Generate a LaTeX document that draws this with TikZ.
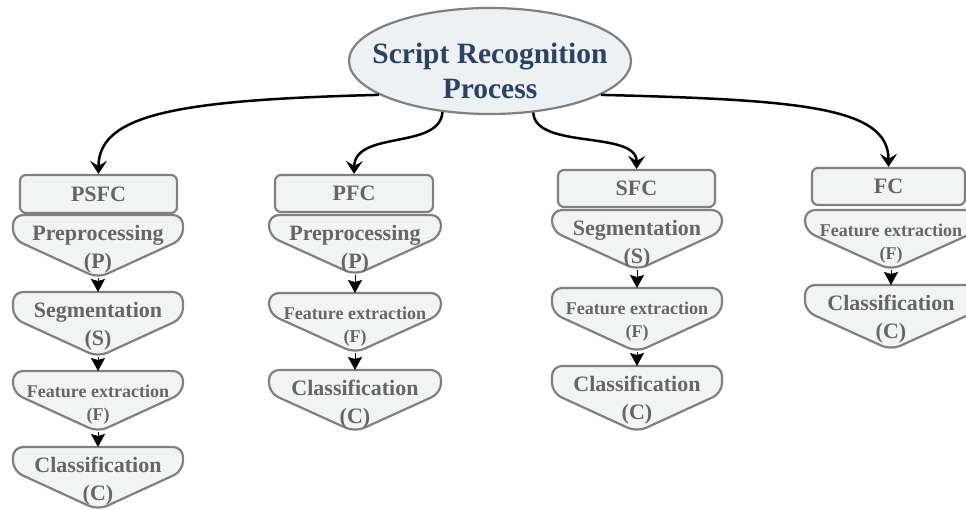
\documentclass[tikz,border=0pt]{standalone}
\usepackage{fontspec}
\setmainfont{Liberation Serif}
\usetikzlibrary{arrows.meta,shapes.geometric}

\definecolor{boxfill}{HTML}{F2F3F3}
\definecolor{boxline}{HTML}{808080}
\definecolor{boxtext}{HTML}{666666}
\definecolor{titletext}{HTML}{2D4262}
\definecolor{ovalfill}{HTML}{EEF1F3}

\tikzset{
  stepline/.style={draw=boxline, fill=boxfill, line width=2.2pt, rounded corners=10pt},
  steptext/.style={text=boxtext, font=\fontsize{22}{28}\selectfont\bfseries, align=center, inner sep=0pt},
  smalltext/.style={text=boxtext, font=\fontsize{18}{23}\selectfont\bfseries, align=center, inner sep=0pt},
  headbox/.style={draw=boxline, fill=boxfill, line width=2.2pt, rounded corners=6pt,
    text=boxtext, font=\fontsize{22}{26}\selectfont\bfseries, inner sep=0pt},
  branch/.style={line width=2.5pt, -{Stealth[length=13pt,width=17pt,inset=5pt]}},
  flow/.style={line width=1pt, -{Stealth[length=13pt,width=14pt,inset=2pt]}},
}

% #1 name, #2 centre x, #3 top y, #4 half width, #5 side height,
% #6 depth of the point, #7 text style, #8 text
\newcommand{\procstep}[8]{%
  \draw[stepline] (#2,#3) -- (#2+#4,#3) -- (#2+#4,#3+#5) -- (#2,#3+#5+#6)
    -- (#2-#4,#3+#5) -- (#2-#4,#3) -- cycle;
  \coordinate (#1-top) at (#2,#3);
  \coordinate (#1-tip) at (#2,#3+#5+#6);
  \node[#7] (#1) at (#2,#3+34) {#8};
}

\begin{document}
\begin{tikzpicture}[x=1pt,y=-1pt]
\path[use as bounding box] (0,0) rectangle (966,510);
\clip (0,0) rectangle (966,510);

% root oval
\node[ellipse, draw=boxline, fill=ovalfill, line width=2.2pt, inner sep=0pt,
      minimum width=282pt, minimum height=106pt] (srp) at (490,61) {};
\node[text=titletext, font=\fontsize{29.5}{35}\selectfont\bfseries, align=center, inner sep=0pt]
      (srptext) at (490,71) {Script Recognition\\Process};

% column 1: PSFC
\procstep{p1}{98}{215}{85}{24}{39}{steptext}{Preprocessing\\(P)}
\procstep{p2}{98}{292}{85}{26}{39}{steptext}{Segmentation\\(S)}
\procstep{p3}{98}{371}{85}{22}{39}{smalltext}{Feature extraction\\(F)}
\procstep{p4}{98}{447}{85}{24}{39}{steptext}{Classification\\(C)}
\node[headbox, minimum width=157pt, minimum height=38pt] (h1) at (98.5,194) {PSFC};

% column 2: PFC
\procstep{q1}{355}{215}{86}{21}{39}{steptext}{Preprocessing\\(P)}
\procstep{q2}{355}{293}{86}{21}{39}{smalltext}{Feature extraction\\(F)}
\procstep{q3}{355}{370}{86}{23}{39}{steptext}{Classification\\(C)}
\node[headbox, minimum width=158pt, minimum height=37pt] (h2) at (354,193.5) {PFC};

% column 3: SFC
\procstep{r1}{637}{210}{85}{21}{39}{steptext}{Segmentation\\(S)}
\procstep{r2}{637}{288}{85}{25}{39}{smalltext}{Feature extraction\\(F)}
\procstep{r3}{637}{366}{85}{27}{39}{steptext}{Classification\\(C)}
\node[headbox, minimum width=157pt, minimum height=37pt] (h3) at (636.5,188.5) {SFC};

% column 4: FC
\procstep{t1}{891}{210}{86}{21}{39}{smalltext}{Feature extraction\\(F)}
\procstep{t2}{891}{285}{86}{26}{39}{steptext}{Classification\\(C)}
\node[headbox, minimum width=153pt, minimum height=37pt] (h4) at (888.5,186.5) {FC};

% step to step
\draw[flow] (p1-tip) -- (p2-top);
\draw[flow] (p2-tip) -- (p3-top);
\draw[flow] (p3-tip) -- (p4-top);
\draw[flow] (q1-tip) -- (q2-top);
\draw[flow] (q2-tip) -- (q3-top);
\draw[flow] (r1-tip) -- (r2-top);
\draw[flow] (r2-tip) -- (r3-top);
\draw[flow] (t1-tip) -- (t2-top);

% branches from the root
\draw[branch] (srp.197) .. controls +(-200,5) and +(0,-60) .. (h1.north);
\draw[branch] (srp.227) .. controls (440,150) and (355,130) .. (h2.north);
\draw[branch] (srp.310) .. controls (535,150) and (637,130) .. (h3.north);
\draw[branch] (srp.343) .. controls +(200,5) and +(0,-60) .. (h4.north);
\end{tikzpicture}
\end{document}
